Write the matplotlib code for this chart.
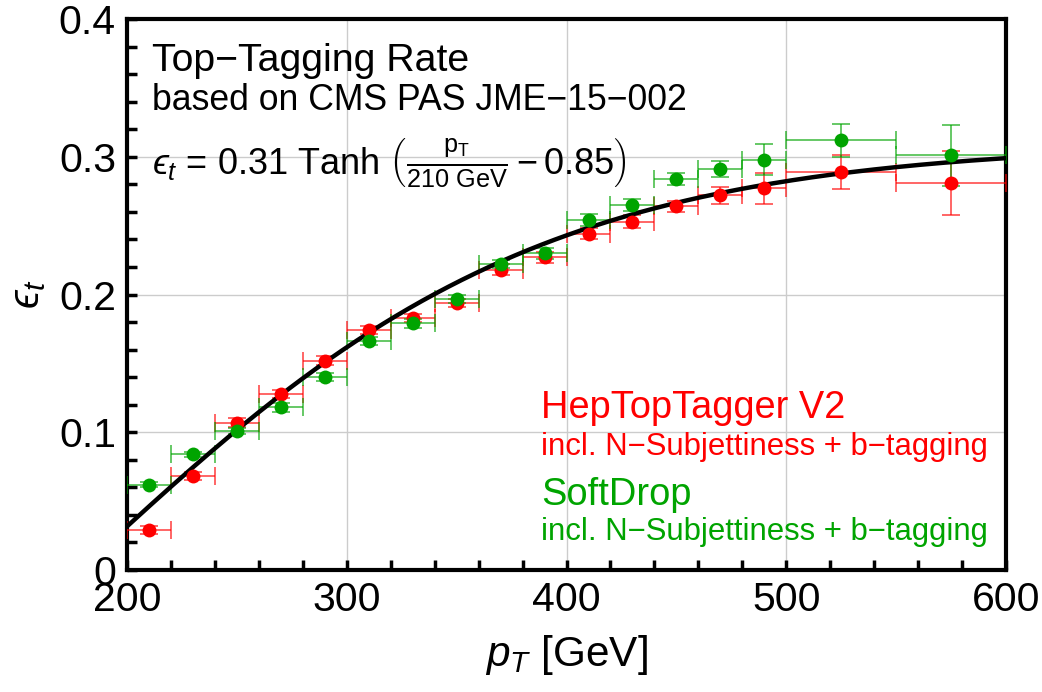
import numpy as np
import matplotlib
matplotlib.use("Agg")
import matplotlib.pyplot as plt
from matplotlib.ticker import MultipleLocator, FuncFormatter

plt.rcParams['font.family'] = ['Liberation Sans', 'DejaVu Sans']
plt.rcParams['mathtext.fontset'] = 'custom'
plt.rcParams['mathtext.rm'] = 'Liberation Sans'
plt.rcParams['mathtext.it'] = 'Liberation Sans:italic'

# bin centres and half widths [GeV]
pt = [210, 230, 250, 270, 290, 310, 330, 350, 370, 390, 410, 430, 450, 470, 490, 525, 575]
pt_half = [10] * 15 + [25, 25]

# HepTopTagger V2 (red)
htt_eff = [0.029, 0.068, 0.107, 0.128, 0.152, 0.174, 0.183, 0.194, 0.218, 0.227,
           0.244, 0.253, 0.264, 0.272, 0.277, 0.289, 0.281]
htt_err = [0.003, 0.003, 0.003, 0.003, 0.003, 0.003, 0.003, 0.003, 0.004, 0.004,
           0.004, 0.0045, 0.004, 0.006, 0.011, 0.0125, 0.023]

# SoftDrop (green)
sd_eff = [0.062, 0.084, 0.101, 0.118, 0.140, 0.166, 0.179, 0.197, 0.222, 0.230,
          0.254, 0.265, 0.284, 0.291, 0.298, 0.312, 0.301]
sd_err = [0.002, 0.002, 0.002, 0.003, 0.003, 0.003, 0.003, 0.003, 0.003, 0.004,
          0.0045, 0.0045, 0.0045, 0.006, 0.011, 0.012, 0.022]

red = '#FF0000'
green = '#00A400'
eps = '\u03f5'  # lunate epsilon as in the original

fig = plt.figure(figsize=(10.42, 6.92), dpi=100)
ax = fig.add_axes([0.1219, 0.1763, 0.8436, 0.7962])

# fit curve
x = np.linspace(200, 600, 400)
ax.plot(x, 0.31 * np.tanh(x / 210 - 0.85), color='black', lw=3.2, zorder=4)

for eff, err, c in [(htt_eff, htt_err, red), (sd_eff, sd_err, green)]:
    ax.errorbar(pt, eff, xerr=pt_half, yerr=err, fmt='none', ecolor=c, alpha=0.65,
                elinewidth=1.3, capsize=6.5, capthick=1.3, zorder=3)
    ax.plot(pt, eff, 'o', color=c, ms=10, mec='none', zorder=5)

ax.set_xlim(200, 600)
ax.set_ylim(0, 0.4)
ax.xaxis.set_major_locator(MultipleLocator(100))
ax.xaxis.set_minor_locator(MultipleLocator(20))
ax.yaxis.set_major_locator(MultipleLocator(0.1))
ax.yaxis.set_minor_locator(MultipleLocator(0.02))
ax.yaxis.set_major_formatter(FuncFormatter(lambda v, p: '0' if abs(v) < 1e-9 else '%.1f' % v))
ax.tick_params(which='both', direction='in', length=7, width=2.5, labelsize=29.5,
               top=False, right=False)
ax.tick_params(which='major', pad=8)
ax.grid(True, which='major', color='#cccccc', lw=1)
for s in ax.spines.values():
    s.set_linewidth(3)

ax.set_xlabel(r'$p_T$ [GeV]', fontsize=30.5, labelpad=10)
ax.set_ylabel('$' + eps + '_t$', fontsize=30.5, labelpad=8)

ax.text(0.028, 0.906, 'Top\u2212Tagging Rate', transform=ax.transAxes, fontsize=28.3)
ax.text(0.028, 0.835, 'based on CMS PAS JME\u221215\u2212002', transform=ax.transAxes, fontsize=25.7)
ax.text(0.028, 0.717,
        '$' + eps + r'_t$ = 0.31 Tanh $\left(\frac{\mathrm{p_T}}{\mathrm{210\ GeV}} - 0.85\right)$',
        transform=ax.transAxes, fontsize=26)

ax.text(0.471, 0.276, 'HepTopTagger V2', transform=ax.transAxes, fontsize=27.4, color=red)
ax.text(0.471, 0.209, 'incl. N\u2212Subjettiness + b\u2212tagging', transform=ax.transAxes,
        fontsize=22.4, color=red)
ax.text(0.471, 0.118, 'SoftDrop', transform=ax.transAxes, fontsize=27.4, color=green)
ax.text(0.471, 0.054, 'incl. N\u2212Subjettiness + b\u2212tagging', transform=ax.transAxes,
        fontsize=22.4, color=green)

fig.savefig('out.png', dpi=100)
